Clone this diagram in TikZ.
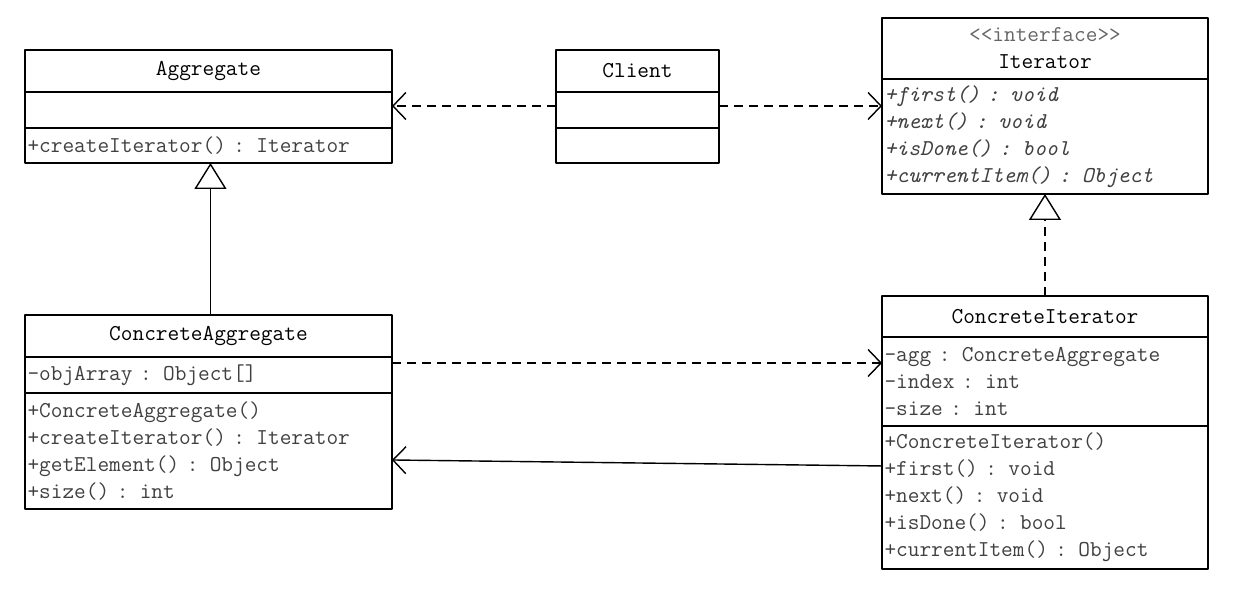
\documentclass[tikz,border=0pt]{standalone}
\usepackage{fontspec}
\usetikzlibrary{positioning,arrows.meta}

\begin{document}
\begin{tikzpicture}[x=0.02cm,y=-0.02cm,line join=round,
  every node/.style={font=\ttfamily\fontsize{12.9}{15.4}\selectfont},
  box/.style={draw,line width=0.8pt,outer sep=0pt,inner xsep=0.05cm,inner ysep=0pt,anchor=north west},
  head/.style 2 args={box,text width=#1,minimum height=#2,align=center},
  part/.style 2 args={box,text width=#1,minimum height=#2,align=left,text=black!75},
  dep/.style={line width=0.8pt,dash pattern=on 0.18cm off 0.12cm,-{Straight Barb[length=0.26cm,width=0.54cm]}},
  assoc/.style={line width=0.8pt,-{Straight Barb[length=0.26cm,width=0.54cm]}},
  gen/.style={line width=0.8pt,-{Triangle[open,length=0.52cm,width=0.64cm]}},
  real/.style={gen,dash pattern=on 0.18cm off 0.12cm}]
  \useasboundingbox (0,0) rectangle (1253,595);
  % Aggregate
  \node[head={7.24cm}{0.84cm}] (agg) at (25,50) {Aggregate};
  \node[part={7.24cm}{0.72cm},below=0pt of agg] (aggattr) {};
  \node[part={7.24cm}{0.70cm},below=0pt of aggattr] (aggops) {+createIterator() : Iterator};
  % Client
  \node[head={3.16cm}{0.84cm}] (cl) at (556,50) {Client};
  \node[part={3.16cm}{0.72cm},below=0pt of cl] (clattr) {};
  \node[part={3.16cm}{0.70cm},below=0pt of clattr] (clops) {};
  % Iterator
  \node[head={6.42cm}{1.22cm}] (it) at (882,18) {{\color{black!60}<<interface>>}\\Iterator};
  \node[part={6.42cm}{2.30cm},below=0pt of it,font=\ttfamily\itshape\fontsize{12.9}{15.4}\selectfont] (itops)
    {+first() : void\\+next() : void\\+isDone() : bool\\+currentItem() : Object};
  % ConcreteAggregate
  \node[head={7.24cm}{0.84cm}] (ca) at (25,315) {ConcreteAggregate};
  \node[part={7.24cm}{0.72cm},below=0pt of ca] (caattr) {-objArray : Object[]};
  \node[part={7.24cm}{2.32cm},below=0pt of caattr] (caops)
    {+ConcreteAggregate()\\+createIterator() : Iterator\\+getElement() : Object\\+size() : int};
  % ConcreteIterator
  \node[head={6.42cm}{0.82cm}] (ci) at (882,296) {ConcreteIterator};
  \node[part={6.42cm}{1.78cm},below=0pt of ci] (ciattr)
    {-agg : ConcreteAggregate\\-index : int\\-size : int};
  \node[part={6.42cm}{2.86cm},below=0pt of ciattr] (ciops)
    {+ConcreteIterator()\\+first() : void\\+next() : void\\+isDone() : bool\\+currentItem() : Object};
  % relations
  \coordinate (clleft) at ([yshift=0.08cm]clattr.west);
  \coordinate (clright) at ([yshift=0.08cm]clattr.east);
  \coordinate (caright) at ([yshift=0.24cm]caattr.east);
  \draw[dep] (clleft) -- (clleft -| aggattr.east);
  \draw[dep] (clright) -- (clright -| itops.west);
  \draw[gen] ([xshift=0.04cm]ca.north) -- ([xshift=0.04cm]aggops.south);
  \draw[real] (ci.north) -- (itops.south);
  \draw[dep] (caright) -- (caright -| ciattr.west);
  \draw[assoc] ([yshift=0.63cm]ciops.west) -- ([yshift=-0.18cm]caops.east);
\end{tikzpicture}
\end{document}
